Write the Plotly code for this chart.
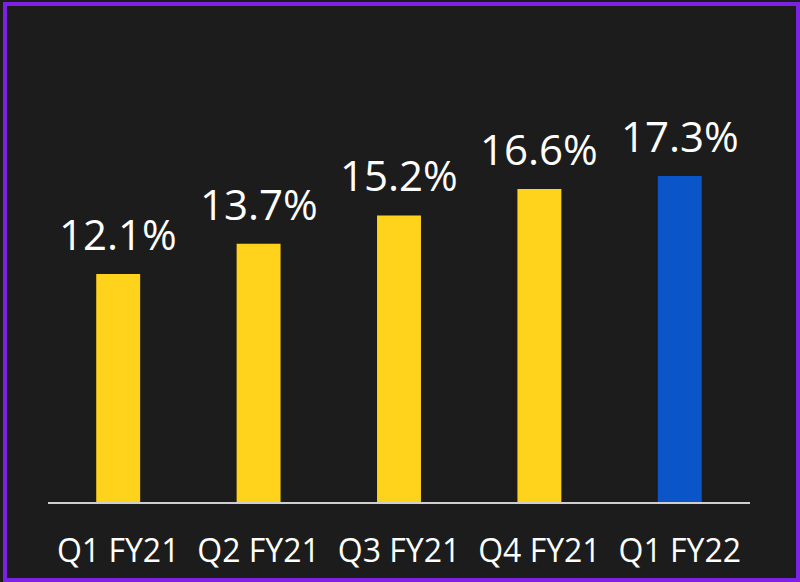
import plotly.graph_objects as go

categories = ["Q1 FY21", "Q2 FY21", "Q3 FY21", "Q4 FY21", "Q1 FY22"]
values = [12.1, 13.7, 15.2, 16.6, 17.3]
labels = ["12.1%", "13.7%", "15.2%", "16.6%", "17.3%"]
bar_colors = ["#FFD21C", "#FFD21C", "#FFD21C", "#FFD21C", "#0A55C8"]

W, H = 800, 582
ML, MR, MT, MB = 48, 50, 20, 80
pw, ph = W - ML - MR, H - MT - MB

fig = go.Figure(go.Bar(
    x=categories, y=values, marker=dict(color=bar_colors, line=dict(width=0)),
    width=0.313, hoverinfo="skip",
))

for c, v, t in zip(categories, values, labels):
    fig.add_annotation(x=c, y=v, text=t, showarrow=False, yanchor="bottom",
                       yshift=10, font=dict(family="Open Sans", size=42, color="#FFFFFF"))

# border frame around the whole picture
fig.add_shape(type="rect", xref="paper", yref="paper",
              x0=(5 - ML) / pw, x1=(798 - ML) / pw,
              y0=(H - MB - 580) / ph, y1=(H - MB - 4) / ph,
              line=dict(color="#7B22E4", width=4), fillcolor="rgba(0,0,0,0)", layer="above")

fig.update_layout(
    width=W, height=H, margin=dict(l=ML, r=MR, t=MT, b=MB),
    paper_bgcolor="#1C1C1C", plot_bgcolor="#1C1C1C",
    showlegend=False,
    xaxis=dict(showgrid=False, showline=True, linecolor="#CFCFCF", linewidth=1.5,
               ticks="", ticklabelstandoff=20,
               tickfont=dict(family="Open Sans", size=32, color="#FFFFFF"),
               fixedrange=True),
    yaxis=dict(range=[0, (H - MT - MB) / 18.85], showgrid=False, showticklabels=False,
               zeroline=False, visible=False, fixedrange=True),
)
fig.write_html("out.html", config={"displayModeBar": False},
               post_script="document.body.style.margin='0px';document.body.style.background='#1C1C1C';")
